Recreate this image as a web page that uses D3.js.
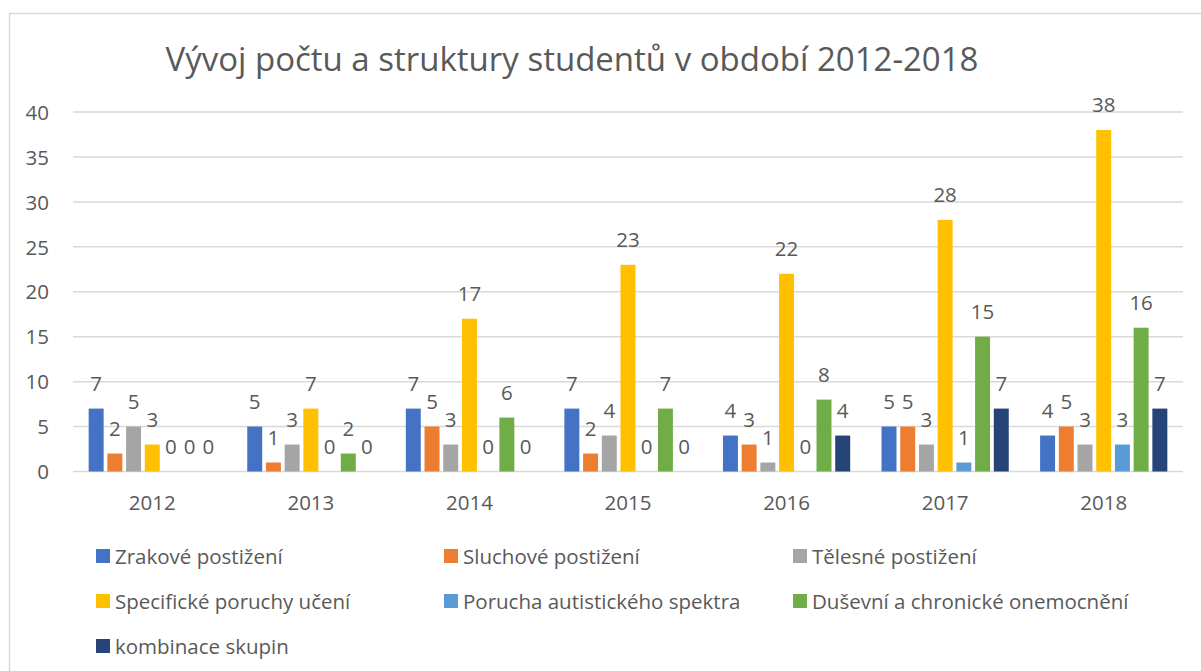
<!DOCTYPE html>
<html>
<head>
<meta charset="utf-8">
<script src="https://cdn.jsdelivr.net/npm/d3@7"></script>
<style>
    body { margin: 0; background: #fff; }
    text { font-family: "Open Sans", sans-serif; fill: #595959; }
</style>
</head>
<body>
<svg id="drawing_region"></svg>
<script>
const years = ['2012', '2013', '2014', '2015', '2016', '2017', '2018'];
const seriesNames = [
    'Zrakové postižení',
    'Sluchové postižení',
    'Tělesné postižení',
    'Specifické poruchy učení',
    'Porucha autistického spektra',
    'Duševní a chronické onemocnění',
    'kombinace skupin'
];
const zrakove = [7, 5, 7, 7, 4, 5, 4];
const sluchove = [2, 1, 5, 2, 3, 5, 5];
const telesne = [5, 3, 3, 4, 1, 3, 3];
const specificke = [3, 7, 17, 23, 22, 28, 38];
const autismus = [0, 0, 0, 0, 0, 1, 3];
const dusevni = [0, 2, 6, 7, 8, 15, 16];
const kombinace = [0, 0, 0, 0, 4, 7, 7];
const yTicks = [0, 5, 10, 15, 20, 25, 30, 35, 40];
const colors = ['#4472C4', '#ED7D31', '#A5A5A5', '#FFC000', '#5B9BD5', '#70AD47', '#264478'];

const seriesValues = [zrakove, sluchove, telesne, specificke, autismus, dusevni, kombinace];

const config = {
    width: 1201,
    height: 671,
    margin: { top: 112, right: 18, bottom: 199.5, left: 73 }
};

const svg = d3.select('#drawing_region')
    .attr('width', config.width)
    .attr('height', config.height);

// chart border
svg.append('rect')
    .attr('x', 9.5).attr('y', 13.5)
    .attr('width', config.width + 20).attr('height', config.height + 20)
    .attr('fill', 'none')
    .attr('stroke', '#d9d9d9')
    .attr('stroke-width', 1.5);

svg.append('text')
    .attr('x', 572)
    .attr('y', 71)
    .attr('text-anchor', 'middle')
    .style('font-size', '33px')
    .text('Vývoj počtu a struktury studentů v období 2012-2018');

const innerW = config.width - config.margin.left - config.margin.right;
const innerH = config.height - config.margin.top - config.margin.bottom;

const g = svg.append('g')
    .attr('transform', `translate(${config.margin.left}, ${config.margin.top})`);

const x0 = d3.scaleBand()
    .domain(years)
    .range([0, innerW])
    .paddingInner(0.174)
    .paddingOuter(0.087);

const x1 = d3.scaleBand()
    .domain(d3.range(seriesNames.length))
    .range([0, x0.bandwidth()])
    .paddingInner(0.2)
    .paddingOuter(0.1);

const y = d3.scaleLinear()
    .domain([0, 40])
    .range([innerH, 0]);

// gridlines
g.selectAll('.grid')
    .data(yTicks)
    .enter()
    .append('line')
    .attr('x1', 0).attr('x2', innerW)
    .attr('y1', d => y(d)).attr('y2', d => y(d))
    .attr('stroke', '#d9d9d9')
    .attr('stroke-width', 1.5);

const yAxis = g.append('g')
    .call(d3.axisLeft(y).tickValues(yTicks).tickSize(0).tickPadding(24));
yAxis.select('.domain').remove();
yAxis.selectAll('text')
    .style('font-size', '20.5px')
    .style('font-family', '"Open Sans", sans-serif')
    .attr('fill', '#595959')
    .attr('dy', '0.35em');

const xAxis = g.append('g')
    .attr('transform', `translate(0, ${innerH})`)
    .call(d3.axisBottom(x0).tickSize(0).tickPadding(24));
xAxis.select('.domain').remove();
xAxis.selectAll('text')
    .style('font-size', '20.5px')
    .style('font-family', '"Open Sans", sans-serif')
    .attr('fill', '#595959');

const rows = years.map((yr, i) => ({
    year: yr,
    values: seriesValues.map((s, k) => ({ k: k, value: s[i] }))
}));

const groups = g.selectAll('.year')
    .data(rows)
    .enter()
    .append('g')
    .attr('transform', d => `translate(${x0(d.year)}, 0)`);

groups.selectAll('rect')
    .data(d => d.values)
    .enter()
    .append('rect')
    .attr('x', d => x1(d.k))
    .attr('y', d => y(d.value))
    .attr('width', x1.bandwidth())
    .attr('height', d => innerH - y(d.value))
    .attr('fill', d => colors[d.k]);

groups.selectAll('.label')
    .data(d => d.values)
    .enter()
    .append('text')
    .attr('x', d => x1(d.k) + x1.bandwidth() / 2)
    .attr('y', d => y(d.value) - 18)
    .attr('text-anchor', 'middle')
    .style('font-size', '20.5px')
    .text(d => d.value);

// legend
const legendCols = [96, 444, 793];
const legendRows = [556, 601, 646];
const legend = svg.selectAll('.legend')
    .data(seriesNames)
    .enter()
    .append('g')
    .attr('transform', (d, i) => `translate(${legendCols[i % 3]}, ${legendRows[Math.floor(i / 3)]})`);

legend.append('rect')
    .attr('x', 0).attr('y', -7)
    .attr('width', 14).attr('height', 14)
    .attr('fill', (d, i) => colors[i]);

legend.append('text')
    .attr('x', 19)
    .attr('y', 7.5)
    .style('font-size', '20.5px')
    .text(d => d);
</script>
</body>
</html>
